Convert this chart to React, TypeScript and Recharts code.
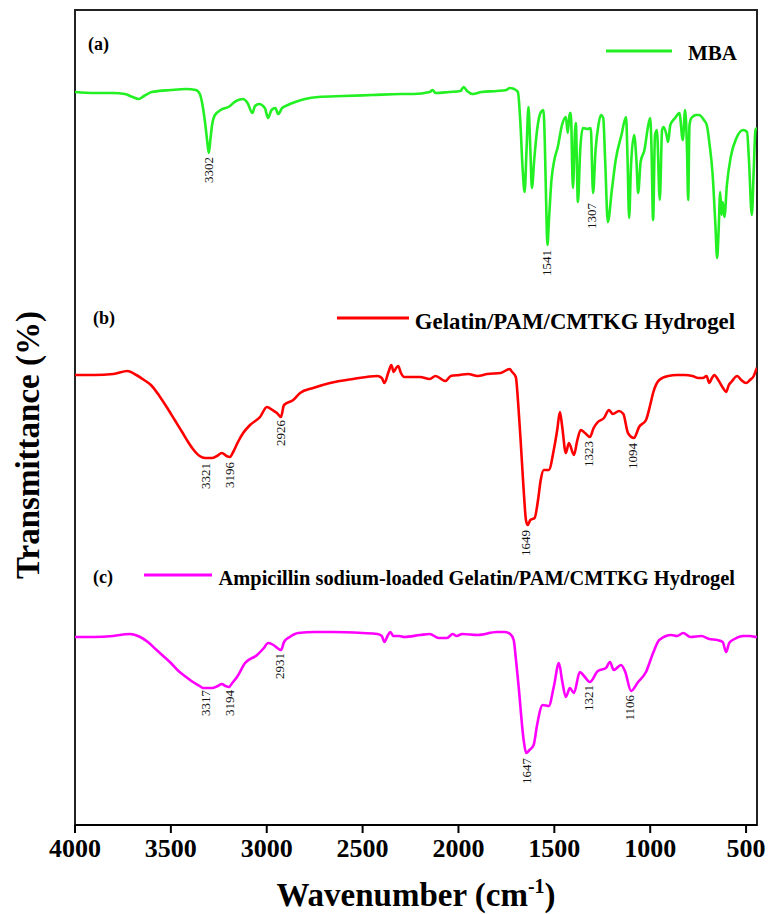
import React from 'react';
import {
    LineChart,
    Line,
    XAxis,
    YAxis,
    ReferenceArea,
    ReferenceDot,
    Label,
} from 'recharts';

// wavenumber (cm-1), stacked transmittance (a.u.)
const mba: [number, number][] = [
    [4000, 73.3], [3900, 73.2], [3800, 73.2], [3740, 73.1], [3700, 72.8], [3668, 72.6],
    [3640, 72.9], [3600, 73.3], [3500, 73.5], [3420, 73.6], [3370, 73.5], [3349, 73.1],
    [3335, 72.0], [3320, 70.0], [3310, 68.3], [3302, 67.2], [3294, 68.5], [3285, 70.0],
    [3270, 71.0], [3240, 71.5], [3200, 71.8], [3160, 72.4], [3124, 72.6], [3100, 72.2],
    [3075, 71.2], [3061, 71.9], [3040, 72.1], [3010, 71.7], [2993, 70.7], [2975, 71.5],
    [2955, 71.7], [2940, 71.1], [2920, 71.7], [2890, 72.0], [2851, 72.3], [2800, 72.6],
    [2731, 72.8], [2600, 72.9], [2450, 73.0], [2300, 73.1], [2233, 73.1], [2150, 73.3],
    [2135, 73.5], [2120, 73.2], [2050, 73.3], [1990, 73.4], [1973, 73.8], [1955, 73.4],
    [1925, 73.1], [1880, 73.3], [1800, 73.4], [1750, 73.5], [1733, 73.7], [1710, 73.6],
    [1690, 73.3], [1678, 70.5], [1665, 65.5], [1655, 63.3], [1645, 67.5], [1635, 71.8],
    [1625, 67.5], [1617, 63.7], [1605, 66.5], [1590, 69.5], [1570, 71.3], [1557, 71.5],
    [1550, 68.5], [1543, 62.5], [1536, 58.0], [1528, 60.5], [1515, 64.5], [1500, 66.5],
    [1482, 67.8], [1460, 70.0], [1440, 70.8], [1430, 69.2], [1420, 71.2], [1414, 71.2],
    [1403, 63.7], [1392, 69.5], [1388, 70.2], [1377, 62.3], [1365, 67.5], [1351, 69.7],
    [1325, 69.6], [1310, 69.7], [1298, 63.2], [1285, 67.5], [1270, 70.0], [1257, 71.0],
    [1245, 70.7], [1235, 66.5], [1221, 60.3], [1200, 63.5], [1180, 66.5], [1150, 69.0],
    [1126, 70.8], [1118, 66.5], [1110, 60.7], [1100, 66.0], [1084, 69.0], [1072, 66.5],
    [1063, 63.2], [1050, 66.3], [1030, 67.5], [1010, 70.0], [1000, 70.7], [993, 67.5],
    [985, 60.5], [975, 69.0], [965, 69.5], [950, 62.5], [938, 69.5], [930, 69.8],
    [915, 69.0], [907, 68.3], [895, 70.0], [870, 70.7], [848, 71.2], [830, 68.5],
    [818, 71.5], [808, 67.5], [802, 62.5], [795, 70.0], [785, 70.7], [760, 71.0],
    [745, 71.0], [720, 70.5], [705, 70.0], [690, 68.0], [675, 65.2], [660, 60.0],
    [651, 56.7], [643, 59.5], [635, 63.3], [628, 61.0], [622, 62.3], [613, 60.8],
    [600, 64.0], [580, 66.8], [550, 68.7], [515, 69.5], [495, 69.3], [485, 66.5],
    [470, 61.0], [460, 65.5], [451, 69.5], [443, 69.7],
];

const hydrogel: [number, number][] = [
    [4000, 45.0], [3900, 45.0], [3800, 45.1], [3726, 45.4], [3680, 45.0], [3640, 44.5],
    [3604, 44.0], [3560, 42.9], [3522, 41.8], [3480, 40.5], [3438, 39.2], [3410, 38.3],
    [3385, 37.6], [3350, 36.9], [3321, 36.7], [3286, 36.7], [3260, 36.9], [3234, 37.2],
    [3210, 36.9], [3192, 36.8], [3175, 37.3], [3150, 38.3], [3123, 39.2], [3087, 40.0],
    [3035, 40.8], [2999, 41.8], [2970, 41.5], [2947, 41.2], [2926, 40.8], [2910, 42.0],
    [2862, 42.5], [2826, 43.2], [2758, 43.7], [2670, 44.2], [2550, 44.6], [2423, 44.9],
    [2400, 44.7], [2386, 44.2], [2365, 45.3], [2350, 46.0], [2338, 45.3], [2325, 45.7],
    [2314, 45.9], [2300, 45.2], [2282, 44.8], [2200, 44.8], [2150, 44.6], [2120, 44.9],
    [2068, 44.4], [2040, 44.9], [1994, 45.0], [1950, 45.1], [1900, 44.9], [1850, 45.1],
    [1780, 45.2], [1733, 45.6], [1720, 45.3], [1701, 44.8], [1688, 42.0], [1675, 38.2],
    [1660, 33.5], [1648, 30.5], [1639, 30.0], [1625, 30.5], [1603, 30.7], [1585, 32.5],
    [1571, 34.5], [1555, 35.5], [1529, 35.5], [1503, 37.5], [1485, 39.5], [1471, 41.3],
    [1460, 40.0], [1440, 37.2], [1424, 38.2], [1398, 37.0], [1380, 38.5], [1362, 39.5],
    [1340, 39.2], [1315, 38.8], [1295, 39.7], [1273, 40.3], [1241, 40.7], [1215, 41.5],
    [1195, 41.1], [1163, 41.4], [1140, 41.1], [1116, 39.2], [1085, 38.7], [1058, 39.8],
    [1022, 40.5], [1000, 42.0], [985, 43.2], [953, 44.5], [906, 44.9], [860, 45.0],
    [822, 45.0], [780, 44.9], [749, 44.7], [725, 44.7], [706, 44.9], [692, 44.2],
    [678, 44.7], [666, 45.0], [645, 44.5], [620, 43.7], [604, 43.3], [590, 44.0],
    [577, 44.3], [546, 44.9], [525, 44.5], [500, 44.2], [480, 44.5], [460, 44.9],
    [446, 45.6], [443, 45.7],
];

const loaded: [number, number][] = [
    [4000, 18.8], [3900, 18.8], [3800, 18.9], [3714, 19.1], [3660, 18.8], [3620, 18.3],
    [3580, 17.6], [3540, 16.9], [3500, 16.2], [3460, 15.4], [3420, 14.8], [3385, 14.3],
    [3350, 13.9], [3333, 13.7], [3281, 13.7], [3255, 13.9], [3234, 14.1], [3215, 13.9],
    [3197, 13.8], [3180, 14.2], [3155, 14.8], [3113, 16.2], [3050, 17.0], [3015, 17.7],
    [2993, 18.2], [2965, 18.0], [2945, 17.7], [2925, 17.5], [2910, 18.3], [2880, 18.8],
    [2836, 19.2], [2750, 19.3], [2659, 19.3], [2500, 19.2], [2423, 19.1], [2400, 18.9],
    [2386, 18.3], [2370, 18.9], [2355, 19.3], [2340, 18.9], [2310, 18.9], [2282, 18.8],
    [2200, 19.0], [2150, 19.1], [2103, 18.7], [2060, 18.7], [2030, 19.1], [2010, 18.9],
    [1980, 19.1], [1900, 19.0], [1800, 19.3], [1757, 19.3], [1730, 19.1], [1712, 18.5],
    [1700, 16.5], [1686, 13.8], [1660, 8.5], [1647, 7.2], [1630, 7.5], [1608, 8.0],
    [1590, 10.0], [1561, 12.0], [1529, 11.9], [1503, 13.8], [1476, 16.2], [1460, 14.5],
    [1440, 12.8], [1419, 13.7], [1398, 13.2], [1367, 15.3], [1345, 14.9], [1315, 14.3],
    [1273, 15.4], [1231, 15.7], [1210, 16.3], [1190, 15.5], [1152, 16.0], [1130, 15.3],
    [1100, 13.4], [1063, 14.3], [1022, 15.3], [985, 17.2], [953, 18.5], [890, 19.0],
    [860, 18.9], [828, 19.2], [790, 18.8], [733, 18.9], [692, 18.6], [650, 18.5],
    [622, 18.3], [604, 17.3], [588, 18.2], [560, 18.6], [515, 18.9], [480, 18.9],
    [446, 18.8], [443, 18.8],
];

// peak annotations: wavenumber, top of the label
const peaksA: [number, number][] = [[3302, 66.8], [1541, 57.5], [1307, 62.2]];
const peaksB: [number, number][] = [[3321, 36.2], [3196, 36.3], [2926, 40.5], [1649, 29.5], [1323, 38.4], [1094, 38.2]];
const peaksC: [number, number][] = [[3317, 13.5], [3194, 13.5], [2931, 17.2], [1647, 6.7], [1321, 14.0], [1106, 13.0]];

const xTicks = [4000, 3500, 3000, 2500, 2000, 1500, 1000, 500];

const serif = "'Liberation Serif', 'Times New Roman', serif";

const rows = (pts: [number, number][]) => pts.map(([wn, t]) => ({ wn, t }));

const PeakTag = ({ cx, cy, text }: { cx: number; cy: number; text: string }) => (
    <text x={cx} y={cy} transform={`rotate(-90 ${cx} ${cy})`} textAnchor="end"
          dominantBaseline="central" fontSize={13} fontFamily={serif} fill="#111">
        {text}
    </text>
);

const WnTick = (props: any) => {
    const { x, y, payload } = props;
    return (
        <text x={x} y={y + 22} textAnchor="middle" fontFamily={serif} fontWeight="bold" fontSize={26} fill="#000">
            {payload.value}
        </text>
    );
};

const XTitle = (props: any) => {
    const { viewBox } = props;
    const cx = viewBox.x + viewBox.width / 2;
    return (
        <text x={cx} y={906} textAnchor="middle" fontFamily={serif} fontWeight="bold" fontSize={33} fill="#000">
            Wavenumber (cm<tspan dy={-13} fontSize={20}>-1</tspan><tspan dy={13}>)</tspan>
        </text>
    );
};

const legendText = { fontFamily: serif, fontWeight: 'bold' as const, fontSize: 21, fill: '#000' };

const App = () => (
    <div style={{ position: 'absolute', left: 0, top: 0, width: 769, height: 914, background: '#fff' }}>
        <LineChart width={769} height={914} margin={{ top: 10, right: 12, left: 75, bottom: 0 }}>
            <XAxis type="number" dataKey="wn" domain={[443, 4000]} reversed allowDataOverflow
                   ticks={xTicks} height={89} tickSize={8}
                   axisLine={{ stroke: '#000', strokeWidth: 2 }}
                   tickLine={{ stroke: '#000', strokeWidth: 2 }}
                   tick={<WnTick />}>
                <Label content={XTitle} />
            </XAxis>
            <YAxis type="number" domain={[0, 81.5]} width={0} tick={false} tickLine={false}
                   axisLine={{ stroke: '#000', strokeWidth: 2 }} />
            <ReferenceArea x1={4000} x2={443} y1={0} y2={81.5} fill="none" stroke="#222" strokeWidth={2}
                           ifOverflow="visible" />
            <Line data={rows(mba)} dataKey="t" type="monotone" stroke="#22f022" strokeWidth={2.6}
                  dot={false} isAnimationActive={false} />
            <Line data={rows(hydrogel)} dataKey="t" type="monotone" stroke="#ff0000" strokeWidth={2.6}
                  dot={false} isAnimationActive={false} />
            <Line data={rows(loaded)} dataKey="t" type="monotone" stroke="#ff00ff" strokeWidth={2.6}
                  dot={false} isAnimationActive={false} />
            {[...peaksA, ...peaksB, ...peaksC].map(([wn, t]) => (
                <ReferenceDot key={`${wn}-${t}`} x={wn} y={t} r={0} ifOverflow="visible"
                              shape={(p: any) => <PeakTag cx={p.cx} cy={p.cy} text={String(wn)} />} />
            ))}
            <g>
                <text x={28} y={445} transform="rotate(-90 28 445)" textAnchor="middle" dominantBaseline="central"
                      fontFamily={serif} fontWeight="bold" fontSize={33} fill="#000">
                    Transmittance (%)
                </text>

                <text x={88} y={50} {...legendText} fontSize={18}>(a)</text>
                <line x1={606} x2={672} y1={51} y2={51} stroke="#22f022" strokeWidth={3} />
                <text x={737} y={60} textAnchor="end" {...legendText}>MBA</text>

                <text x={93} y={324} {...legendText} fontSize={18}>(b)</text>
                <line x1={337} x2={409} y1={318} y2={318} stroke="#ff0000" strokeWidth={3} />
                <text x={735} y={329} textAnchor="end" {...legendText} fontSize={22.8}>Gelatin/PAM/CMTKG Hydrogel</text>

                <text x={93} y={583} {...legendText} fontSize={18}>(c)</text>
                <line x1={144} x2={212} y1={575} y2={575} stroke="#ff00ff" strokeWidth={3} />
                <text x={735} y={585} textAnchor="end" {...legendText} fontSize={20.4}>Ampicillin sodium-loaded Gelatin/PAM/CMTKG Hydrogel</text>
            </g>
        </LineChart>
    </div>
);

export default App;
